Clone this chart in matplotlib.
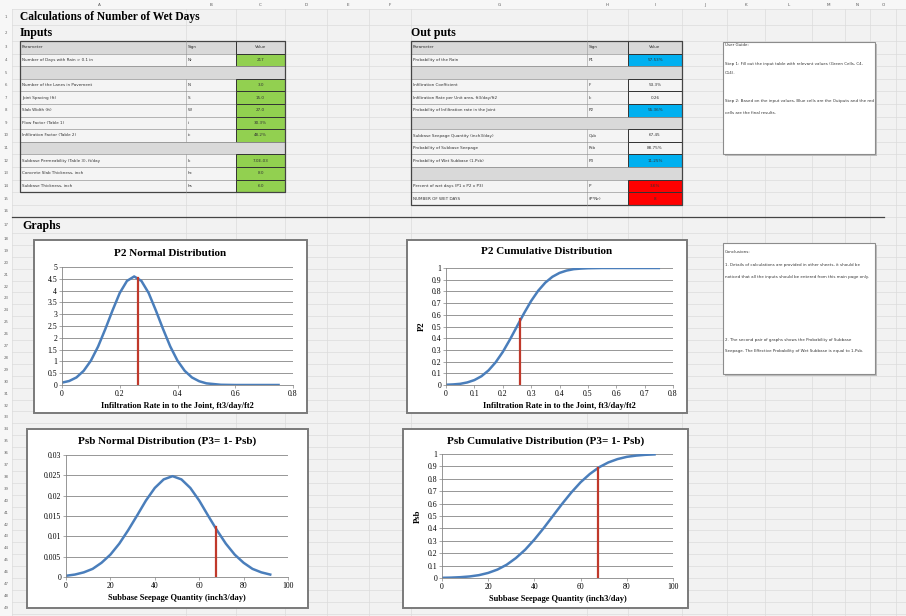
import matplotlib.pyplot as plt
from matplotlib.patches import Rectangle
from matplotlib.ticker import FuncFormatter

# ---- chart data ----
p2_x = [0, 0.025, 0.05, 0.075, 0.1, 0.125, 0.15, 0.175, 0.2, 0.225, 0.25, 0.275,
        0.3, 0.325, 0.35, 0.375, 0.4, 0.425, 0.45, 0.475, 0.5, 0.55, 0.6, 0.65, 0.7, 0.75]
p2_pdf = [0.1, 0.17, 0.32, 0.6, 1.03, 1.63, 2.37, 3.16, 3.9, 4.41, 4.6, 4.41,
          3.9, 3.16, 2.37, 1.63, 1.03, 0.6, 0.32, 0.16, 0.07, 0.01, 0.0, 0.0, 0.0, 0.0]
p2_cdf = [0.002, 0.005, 0.01, 0.022, 0.042, 0.075, 0.125, 0.194, 0.282, 0.387, 0.5, 0.613,
          0.718, 0.806, 0.875, 0.925, 0.958, 0.978, 0.99, 0.995, 0.998, 1.0, 1.0, 1.0, 1.0, 1.0]
p2_mark = 0.262
p2_mark_pdf = 4.55
p2_mark_cdf = 0.56

psb_x = [0, 4, 8, 12, 16, 20, 24, 28, 32, 36, 40, 44, 48,
         52, 56, 60, 64, 68, 72, 76, 80, 84, 88, 92]
psb_pdf = [0.0003, 0.0006, 0.00114, 0.002, 0.0035, 0.0055, 0.0082, 0.0115, 0.0151, 0.0188,
           0.0219, 0.024, 0.0248, 0.024, 0.0219, 0.0188, 0.0151, 0.0115, 0.0082, 0.0055,
           0.0035, 0.002, 0.00114, 0.0006]
psb_cdf = [0.0014, 0.0032, 0.0066, 0.0125, 0.023, 0.041, 0.068, 0.107, 0.161, 0.228, 0.31,
           0.402, 0.5, 0.598, 0.69, 0.772, 0.839, 0.893, 0.932, 0.959, 0.977, 0.987, 0.9934, 0.9968]
psb_mark = 67.5
psb_mark_pdf = 0.0122
psb_mark_cdf = 0.89

# ---- spreadsheet tables ----
in_param = ["Parameter", "Number of Days with Rain > 0.1 in", None,
            "Number of the Lanes in Pavement", "Joint Spacing (ft)", "Slab Width (ft)",
            "Flow Factor (Table 1)", "Infiltration Factor (Table 2)", None,
            "Subbase Permeability (Table 3), ft/day", "Concrete Slab Thickness, inch",
            "Subbase Thickness, inch"]
in_sign = ["Sign", "Nr", "", "N", "S", "W", "i", "ic", "", "k", "hc", "hs"]
in_value = ["Value", "217", "", "3.0", "15.0", "27.0", "30.3%", "48.2%", "",
            "7.0E-03", "8.0", "6.0"]

out_param = ["Parameter", "Probability of the Rain", None, "Infiltration Coefficient",
             "Infiltration Rate per Unit area, ft3/day/ft2",
             "Probability of Infiltration rate in the Joint", None,
             "Subbase Seepage Quantity (inch3/day)", "Probability of Subbase Seepage",
             "Probability of Wet Subbase (1-Psb)", None,
             "Percent of wet days (P1 x P2 x P3)", "NUMBER OF WET DAYS"]
out_sign = ["Sign", "P1", "", "F", "Ic", "P2", "", "Qsb", "Psb", "P3", "", "P", "(P*Nr)"]
out_value = ["Value", "57.53%", "", "53.3%", "0.26", "55.36%", "", "67.45", "88.75%",
             "11.25%", "", "3.6%", "8"]
out_kind = ["head", "blue", "gap", "", "", "blue", "gap", "", "", "blue", "gap", "red", "red"]

col_letters = list("ABCDEFGHIJKLMNO")
col_edges = [12, 186, 236, 285, 327, 369, 411, 587, 628, 682, 727, 765, 812, 845, 870, 896]

guide_lines = ["User Guide:",
               "Step 1: Fill out the input table with relevant values (Green Cells, C4-",
               "C14).",
               "Step 2: Based on the input values, Blue cells are the Outputs and the red",
               "cells are the final results."]
concl_lines = ["Conclusions:",
               "1. Details of calculations are provided in other sheets, it should be",
               "noticed that all the inputs should be entered from this main page only.",
               "2. The second pair of graphs shows the Probability of Subbase",
               "Seepage. The Effective Probability of Wet Subbase is equal to 1-Psb."]

W, H = 906, 616
GREEN, BLUE, RED, GRAY = '#92d050', '#00b0f0', '#ff0000', '#d9d9d9'
CURVE, MARK = '#4a7ebb', '#c0392b'
SERIF = 'Liberation Serif'

fig = plt.figure(figsize=(W / 100, H / 100), dpi=100)
fig.patch.set_facecolor('#f2f2f2')
bg = fig.add_axes([0, 0, 1, 1])
bg.set_xlim(0, W)
bg.set_ylim(H, 0)
bg.axis('off')

# row boundaries
rows = [9, 25, 41]
for k in range(14):
    rows.append(41 + (k + 1) * 12.6)
rows.append(233)
while rows[-1] + 11.9 < H:
    rows.append(rows[-1] + 11.9)

# faint sheet gridlines
for x in col_edges:
    bg.plot([x, x], [0, H], color='#dcdcdc', lw=0.5, zorder=0)
for y in rows:
    bg.plot([0, W], [y, y], color='#dcdcdc', lw=0.5, zorder=0)

# column header + row numbers
bg.add_patch(Rectangle((0, 0), W, 9, fc='#f7f7f7', ec='none', zorder=0.5))
bg.add_patch(Rectangle((0, 0), 12, H, fc='#f7f7f7', ec='none', zorder=0.5))
for i, c in enumerate(col_letters):
    bg.text((col_edges[i] + col_edges[i + 1]) / 2, 5, c, fontsize=3, color='#555',
            ha='center', va='center')
for i in range(len(rows) - 1):
    bg.text(6, (rows[i] + rows[i + 1]) / 2, str(i + 1), fontsize=2.8, color='#666',
            ha='center', va='center')

# headings
bg.text(20, 17, "Calculations of Number of Wet Days", fontsize=8.3, fontweight='bold',
        family=SERIF, va='center')
bg.text(20, 33, "Inputs", fontsize=8.6, fontweight='bold', family=SERIF, va='center')
bg.text(411, 33, "Out puts", fontsize=8.6, fontweight='bold', family=SERIF, va='center')
bg.text(22, 226, "Graphs", fontsize=8.6, fontweight='bold', family=SERIF, va='center')
bg.plot([12, 884], [217, 217], color='#444', lw=0.9)


def draw_table(x0, x1, x2, x3, params, signs, values, kinds):
    top = rows[2]
    for r, p in enumerate(params):
        y0, y1 = rows[2 + r], rows[3 + r]
        h = y1 - y0
        if p is None:
            bg.add_patch(Rectangle((x0, y0), x3 - x0, h, fc=GRAY, ec='#888', lw=0.5))
            continue
        rowfc = GRAY if r == 0 else '#f4f4f4'
        bg.add_patch(Rectangle((x0, y0), x2 - x0, h, fc=rowfc, ec='#999', lw=0.4))
        vfc = {'head': GRAY, 'green': GREEN, 'blue': BLUE, 'red': RED}.get(kinds[r], '#f4f4f4')
        bg.add_patch(Rectangle((x2, y0), x3 - x2, h, fc=vfc, ec='#333', lw=0.7))
        bg.plot([x1, x1], [y0, y1], color='#999', lw=0.4)
        yc = (y0 + y1) / 2
        bg.text(x0 + 2, yc, p, fontsize=3, color='#333', va='center')
        bg.text(x1 + 2, yc, signs[r], fontsize=3, color='#333', va='center')
        bg.text((x2 + x3) / 2, yc, values[r], fontsize=3, color='#333',
                ha='center', va='center')
    bg.add_patch(Rectangle((x0, top), x3 - x0, rows[2 + len(params)] - top,
                           fc='none', ec='#444', lw=0.9))


in_kind = ['head', 'green', 'gap', 'green', 'green', 'green', 'green', 'green', 'gap',
           'green', 'green', 'green']
draw_table(20, 186, 236, 285, in_param, in_sign, in_value, in_kind)
draw_table(411, 587, 628, 682, out_param, out_sign, out_value, out_kind)


# text boxes on the right
def note_box(x0, y0, x1, y1, lines, ys):
    bg.add_patch(Rectangle((x0 + 2, y0 + 2), x1 - x0, y1 - y0, fc='#bdbdbd', ec='none'))
    bg.add_patch(Rectangle((x0, y0), x1 - x0, y1 - y0, fc='white', ec='#8c8c8c', lw=0.8))
    for t, y in zip(lines, ys):
        bg.text(x0 + 2, y, t, fontsize=2.9, color='#333', va='center')


note_box(723, 42, 875, 154, guide_lines, [45, 64, 73, 101, 113])
note_box(723, 243, 875, 374, concl_lines, [252, 265, 277, 340, 351])


# chart frames
def frame(x0, y0, x1, y1, title, ty):
    bg.add_patch(Rectangle((x0, y0), x1 - x0, y1 - y0, fc='white', ec='#7a7a7a', lw=1.4))
    bg.text((x0 + x1) / 2, ty, title, fontsize=8, fontweight='bold', family=SERIF,
            ha='center', va='center')


def px_axes(x0, y0, x1, y1):
    return fig.add_axes([x0 / W, 1 - y1 / H, (x1 - x0) / W, (y1 - y0) / H])


fmt = FuncFormatter(lambda v, pos: ('%.3f' % v).rstrip('0').rstrip('.') if v else '0')


def style(ax, xlim, xticks, ylim, yticks, xlabel, ylabel=None):
    ax.set_xlim(*xlim)
    ax.set_ylim(*ylim)
    ax.set_xticks(xticks)
    ax.set_yticks(yticks)
    ax.xaxis.set_major_formatter(fmt)
    ax.yaxis.set_major_formatter(fmt)
    ax.grid(axis='y', color='#868686', lw=0.6)
    ax.set_axisbelow(True)
    for s in ['top', 'right']:
        ax.spines[s].set_visible(False)
    for s in ['left', 'bottom']:
        ax.spines[s].set_color('#868686')
        ax.spines[s].set_linewidth(0.6)
    ax.tick_params(labelsize=5.6, length=2, width=0.5, color='#868686', pad=1.5)
    for lab in ax.get_xticklabels() + ax.get_yticklabels():
        lab.set_family(SERIF)
    ax.set_xlabel(xlabel, fontsize=6, fontweight='bold', family=SERIF, labelpad=3)
    if ylabel:
        ax.set_ylabel(ylabel, fontsize=6.2, fontweight='bold', family=SERIF, labelpad=4)


frame(34, 240, 307, 413, "P2 Normal Distribution", 254)
frame(407, 240, 687, 413, "P2 Cumulative Distribution", 252)
frame(27, 429, 308, 608, "Psb Normal Distribution (P3= 1- Psb)", 441)
frame(403, 429, 688, 608, "Psb Cumulative Distribution (P3= 1- Psb)", 441)

ax1 = px_axes(62, 267, 293, 385)
ax1.plot(p2_x, p2_pdf, color=CURVE, lw=1.8)
ax1.plot([p2_mark, p2_mark], [0, p2_mark_pdf], color=MARK, lw=1.6)
style(ax1, (0, 0.8), [0, 0.2, 0.4, 0.6, 0.8], (0, 5), [i * 0.5 for i in range(11)],
      "Infiltration Rate in to the Joint, ft3/day/ft2")

ax2 = px_axes(446, 268, 673, 385)
ax2.plot(p2_x, p2_cdf, color=CURVE, lw=1.8)
ax2.plot([p2_mark, p2_mark], [0, p2_mark_cdf], color=MARK, lw=1.6)
style(ax2, (0, 0.8), [i / 10 for i in range(9)], (0, 1), [i / 10 for i in range(11)],
      "Infiltration Rate in to the Joint, ft3/day/ft2", "P2")

ax3 = px_axes(66, 455, 288, 577)
ax3.plot(psb_x, psb_pdf, color=CURVE, lw=1.8)
ax3.plot([psb_mark, psb_mark], [0, psb_mark_pdf], color=MARK, lw=1.6)
style(ax3, (0, 100), [0, 20, 40, 60, 80, 100], (0, 0.03), [i * 0.005 for i in range(7)],
      "Subbase Seepage Quantity (inch3/day)")

ax4 = px_axes(442, 454, 673, 578)
ax4.plot(psb_x, psb_cdf, color=CURVE, lw=1.8)
ax4.plot([psb_mark, psb_mark], [0, psb_mark_cdf], color=MARK, lw=1.6)
style(ax4, (0, 100), [0, 20, 40, 60, 80, 100], (0, 1), [i / 10 for i in range(11)],
      "Subbase Seepage Quantity (inch3/day)", "Psb")

plt.savefig('out.png', dpi=100)
plt.close()
